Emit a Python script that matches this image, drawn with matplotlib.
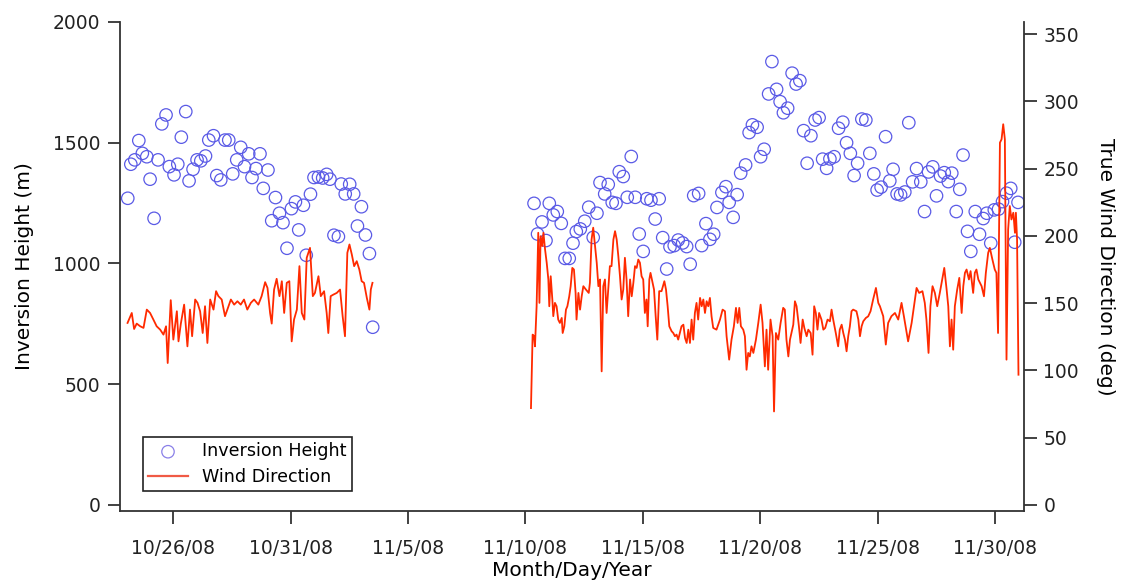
import numpy as np
import pandas as pd
import matplotlib
matplotlib.use('Agg')
import matplotlib.pyplot as plt

# time is given as day counted from 1 Oct 2008 (t=26 -> Oct 26, t=41 -> Nov 10)
inv_t1 = [24.07, 24.20, 24.37, 24.54, 24.69, 24.88, 25.02, 25.19, 25.36, 25.52, 25.70, 25.84,
          26.04, 26.20, 26.35, 26.54, 26.68, 26.85, 27.02, 27.18, 27.38, 27.52, 27.72, 27.86,
          28.03, 28.21, 28.37, 28.54, 28.71, 28.88, 29.04, 29.22, 29.36, 29.53, 29.70, 29.84,
          30.04, 30.20, 30.36, 30.53, 30.68, 30.85, 31.04, 31.21, 31.35, 31.55, 31.67, 31.85,
          32.00, 32.19, 32.37, 32.54, 32.68, 32.85, 33.04, 33.16, 33.33, 33.52, 33.69, 33.85,
          34.02, 34.19, 34.36, 34.50]
inv_h1 = [1270, 1411, 1429, 1509, 1456, 1442, 1349, 1187, 1429, 1578, 1615, 1401,
          1367, 1411, 1523, 1629, 1342, 1390, 1429, 1425, 1445, 1511, 1529, 1364,
          1346, 1511, 1511, 1371, 1429, 1481, 1401, 1454, 1356, 1393, 1454, 1311,
          1387, 1177, 1273, 1208, 1169, 1063, 1227, 1255, 1139, 1241, 1034, 1287,
          1356, 1358, 1354, 1369, 1349, 1117, 1111, 1329, 1288, 1328, 1288, 1155,
          1235, 1118, 1041, 736]

inv_t2 = [41.37, 41.52, 41.71, 41.88, 42.02, 42.19, 42.36, 42.53, 42.69, 42.87, 43.03, 43.17,
          43.34, 43.53, 43.70, 43.89, 44.05, 44.18, 44.38, 44.53, 44.70, 44.86, 45.00, 45.17,
          45.34, 45.51, 45.68, 45.85, 46.02, 46.17, 46.35, 46.53, 46.70, 46.85, 47.02, 47.16,
          47.34, 47.51, 47.70, 47.87, 48.02, 48.17, 48.38, 48.51, 48.69, 48.86, 49.02, 49.16,
          49.37, 49.54, 49.68, 49.85, 50.02, 50.17, 50.38, 50.53, 50.67, 50.87, 51.02, 51.17,
          51.36, 51.50, 51.70, 51.85, 51.99, 52.17, 52.36, 52.53, 52.69, 52.85, 53.00, 53.16,
          53.34, 53.51, 53.66, 53.83, 53.97, 54.15, 54.34, 54.52, 54.68, 54.84, 55.00, 55.15,
          55.33, 55.50, 55.67, 55.84, 55.98, 56.15, 56.34, 56.52, 56.66, 56.83, 56.98, 57.16,
          57.33, 57.49, 57.66, 57.84, 58.00, 58.17, 58.35, 58.51, 58.68, 58.84, 59.01, 59.16,
          59.35, 59.50, 59.64, 59.83, 59.97, 60.16, 60.34, 60.50, 60.65, 60.82, 60.97, 61.15,
          61.32, 61.49, 61.67, 61.84, 61.98]
inv_h2 = [1249, 1122, 1172, 1095, 1249, 1201, 1215, 1166, 1021, 1021, 1084, 1132,
          1143, 1175, 1233, 1108, 1208, 1335, 1288, 1327, 1253, 1249, 1380, 1360,
          1274, 1443, 1274, 1122, 1050, 1268, 1262, 1184, 1268, 1107, 977, 1069,
          1074, 1097, 1085, 1070, 997, 1281, 1290, 1074, 1165, 1100, 1121, 1232,
          1294, 1318, 1253, 1191, 1285, 1374, 1408, 1542, 1574, 1564, 1442, 1473,
          1702, 1836, 1721, 1670, 1624, 1643, 1788, 1743, 1757, 1550, 1415, 1529,
          1594, 1604, 1432, 1394, 1433, 1442, 1560, 1585, 1500, 1456, 1364, 1415,
          1598, 1594, 1456, 1371, 1304, 1316, 1525, 1342, 1390, 1288, 1284, 1296,
          1583, 1338, 1393, 1338, 1215, 1379, 1400, 1280, 1362, 1376, 1339, 1374,
          1215, 1307, 1449, 1133, 1050, 1215, 1121, 1186, 1208, 1084, 1222, 1225,
          1256, 1291, 1311, 1088, 1253]

wind_t1 = [24.06, 24.24, 24.34, 24.45, 24.60, 24.74, 24.88, 25.02, 25.16, 25.30, 25.45, 25.59,
           25.70, 25.77, 25.90, 26.01, 26.16, 26.23, 26.33, 26.47, 26.61, 26.72, 26.81, 26.94,
           27.04, 27.15, 27.26, 27.36, 27.46, 27.58, 27.72, 27.83, 27.93, 28.07, 28.21, 28.31,
           28.46, 28.60, 28.74, 28.88, 29.02, 29.16, 29.31, 29.45, 29.63, 29.77, 29.92, 30.02,
           30.13, 30.20, 30.30, 30.41, 30.53, 30.63, 30.73, 30.84, 30.95, 31.05, 31.15, 31.27,
           31.38, 31.48, 31.59, 31.69, 31.83, 31.95, 32.04, 32.19, 32.29, 32.43, 32.54, 32.61,
           32.71, 32.83, 32.97, 33.11, 33.22, 33.32, 33.42, 33.51, 33.61, 33.71, 33.82, 33.93,
           34.03, 34.13, 34.25, 34.36, 34.42, 34.49]
wind_d1 = [135.3, 142.7, 130.8, 134.8, 132.8, 131.6, 145.2, 142.7, 137.8, 132.8, 130.3, 126.6,
           132.8, 105.5, 152.2, 122.9, 144.0, 121.6, 134.8, 148.9, 117.9, 145.2, 125.4, 152.7,
           150.2, 144.0, 127.8, 147.7, 120.4, 152.7, 145.2, 158.9, 155.2, 152.7, 140.3, 145.2,
           152.7, 148.9, 151.4, 148.9, 152.7, 145.2, 150.2, 152.7, 148.9, 155.2, 165.6, 161.3,
           142.7, 134.8, 160.1, 168.1, 155.2, 166.3, 142.7, 165.1, 166.3, 121.6, 137.8, 145.2,
           177.5, 142.7, 137.8, 183.7, 191.1, 155.2, 157.6, 170.0, 155.2, 158.9, 142.7, 127.8,
           155.2, 156.4, 157.6, 160.1, 140.3, 125.4, 187.4, 193.6, 186.2, 177.5, 181.2, 175.0,
           166.3, 165.1, 153.9, 145.2, 160.1, 165.1]

wind_t2 = [41.24, 41.31, 41.37, 41.41, 41.48, 41.55, 41.60, 41.65, 41.72, 41.77, 41.84, 41.91,
           41.98, 42.02, 42.08, 42.15, 42.19, 42.26, 42.33, 42.40, 42.47, 42.55, 42.59, 42.66,
           42.73, 42.79, 42.87, 42.93, 43.00, 43.07, 43.14, 43.18, 43.26, 43.33, 43.40, 43.47,
           43.58, 43.70, 43.75, 43.82, 43.89, 43.97, 44.04, 44.11, 44.18, 44.25, 44.32, 44.39,
           44.46, 44.53, 44.60, 44.67, 44.75, 44.82, 44.89, 44.96, 45.03, 45.10, 45.17, 45.24,
           45.31, 45.38, 45.46, 45.53, 45.60, 45.67, 45.74, 45.81, 45.88, 45.95, 46.02, 46.09,
           46.16, 46.21, 46.28, 46.33, 46.42, 46.48, 46.55, 46.62, 46.70, 46.80, 46.92, 46.99,
           47.06, 47.13, 47.23, 47.30, 47.37, 47.44, 47.51, 47.58, 47.65, 47.73, 47.80, 47.87,
           47.94, 48.01, 48.08, 48.15, 48.22, 48.29, 48.36, 48.44, 48.51, 48.58, 48.65, 48.72,
           48.79, 48.86, 48.93, 49.00, 49.14, 49.29, 49.40, 49.50, 49.57, 49.68, 49.78, 49.88,
           49.97, 50.04, 50.11, 50.18, 50.28, 50.35, 50.42, 50.49, 50.56, 50.63, 50.71, 50.82,
           50.92, 51.02, 51.10, 51.20, 51.27, 51.34, 51.44, 51.53, 51.59, 51.67, 51.77, 51.87,
           51.98, 52.05, 52.12, 52.20, 52.27, 52.41, 52.48, 52.55, 52.65, 52.72, 52.81, 52.88,
           52.98, 53.05, 53.15, 53.23, 53.30, 53.37, 53.44, 53.51, 53.61, 53.69, 53.77, 53.87,
           53.97, 54.04, 54.11, 54.22, 54.32, 54.39, 54.47, 54.54, 54.61, 54.68, 54.75, 54.82,
           54.89, 54.96, 55.10, 55.18, 55.25, 55.32, 55.39, 55.50, 55.60, 55.70, 55.81, 55.93,
           56.03, 56.10, 56.24, 56.35, 56.45, 56.59, 56.74, 56.88, 57.02, 57.12, 57.30, 57.45,
           57.66, 57.77, 57.91, 58.01, 58.08, 58.17, 58.25, 58.34, 58.44, 58.54, 58.65, 58.75,
           58.84, 58.94, 59.01, 59.08, 59.15, 59.22, 59.29, 59.39, 59.48, 59.58, 59.65, 59.72,
           59.79, 59.89, 59.96, 60.07, 60.14, 60.21, 60.29, 60.36, 60.43, 60.53, 60.61, 60.71,
           60.78, 60.89, 60.99, 61.06, 61.13, 61.21, 61.28, 61.35, 61.42, 61.49, 61.56, 61.63,
           61.70, 61.78, 61.85, 61.89, 61.94, 62.00]
wind_d2 = [72.0, 126.6, 125.4, 117.9, 147.7, 202.3, 150.2, 199.8, 192.4, 202.3, 189.9, 180.0,
           167.6, 147.7, 170.0, 152.7, 140.3, 150.2, 147.7, 137.8, 135.3, 139.0, 127.8, 132.8,
           145.2, 147.7, 155.1, 162.6, 176.2, 175.0, 157.6, 137.8, 157.6, 145.2, 155.1, 162.6,
           160.1, 157.6, 165.1, 197.3, 206.1, 192.4, 180.0, 162.6, 167.6, 99.3, 162.6, 167.6,
           142.7, 160.1, 177.5, 177.5, 197.3, 203.5, 197.3, 184.9, 170.0, 152.7, 160.1, 183.7,
           167.6, 140.3, 167.6, 155.1, 165.1, 177.5, 176.2, 182.4, 180.0, 170.0, 167.6, 142.7,
           152.7, 132.8, 167.6, 172.5, 165.1, 160.1, 140.3, 122.9, 158.9, 158.9, 166.3, 160.1,
           147.7, 132.8, 129.1, 127.8, 125.4, 126.6, 122.9, 127.8, 132.8, 134.0, 124.1, 120.4,
           130.3, 120.4, 137.8, 122.9, 142.7, 150.2, 137.8, 153.9, 147.7, 152.7, 142.7, 151.4,
           147.7, 153.9, 140.2, 131.6, 130.3, 137.8, 145.2, 144.0, 125.4, 108.0, 122.9, 132.8,
           146.5, 135.3, 146.5, 132.8, 130.3, 125.4, 100.5, 113.0, 110.4, 117.9, 113.0, 122.9,
           135.3, 148.9, 135.3, 103.0, 130.3, 100.5, 137.8, 125.4, 69.5, 127.8, 122.9, 135.3,
           146.5, 145.2, 122.9, 110.4, 122.9, 134.0, 151.4, 147.7, 132.8, 120.4, 137.8, 131.6,
           125.4, 130.3, 127.8, 111.7, 147.7, 142.7, 130.3, 142.7, 137.8, 130.3, 131.6, 137.8,
           136.5, 145.2, 137.8, 127.8, 117.9, 130.3, 134.0, 127.8, 122.9, 114.2, 125.4, 132.8,
           144.0, 145.2, 144.0, 137.8, 125.4, 132.8, 136.5, 139.0, 140.2, 144.0, 152.7, 161.3,
           150.2, 147.7, 140.3, 119.2, 135.3, 140.3, 142.7, 137.8, 150.2, 140.3, 121.6, 135.3,
           161.3, 157.6, 158.9, 150.2, 137.8, 113.0, 147.7, 162.6, 157.6, 147.7, 157.6, 167.6,
           176.2, 160.1, 147.7, 117.9, 137.8, 115.4, 147.7, 160.1, 168.8, 142.7, 162.6, 172.5,
           175.0, 167.6, 173.8, 157.6, 172.5, 175.0, 167.6, 165.1, 162.6, 155.1, 172.5, 187.4,
           191.1, 182.4, 175.0, 172.5, 127.8, 269.3, 271.8, 283.0, 271.8, 108.0, 204.8, 222.2,
           212.2, 217.2, 202.3, 217.2, 197.3, 96.8]

tick_dates = ['2008-10-26', '2008-10-31', '2008-11-05', '2008-11-10',
              '2008-11-15', '2008-11-20', '2008-11-25', '2008-11-30']
tick_labels = ['10/26/08', '10/31/08', '11/5/08', '11/10/08',
               '11/15/08', '11/20/08', '11/25/08', '11/30/08']


def to_dates(t):
    return pd.Timestamp('2008-10-01') + pd.to_timedelta(np.asarray(t) - 1, unit='D')


plt.rcParams['font.family'] = 'DejaVu Sans'
plt.rcParams['font.size'] = 13.5

fig = plt.figure(figsize=(11.27, 5.83), dpi=100)
ax = fig.add_axes([0.1065, 0.1235, 0.802, 0.8388])
ax2 = ax.twinx()

edge = '#333333'
blue = '#5a5ae6'
red = '#ff2a00'

for t, h in [(inv_t1, inv_h1), (inv_t2, inv_h2)]:
    ax.scatter(to_dates(t), h, s=80, facecolors='none', edgecolors=blue, linewidths=0.9, zorder=3)

for t, d in [(wind_t1, wind_d1), (wind_t2, wind_d2)]:
    ax2.plot(to_dates(t), d, color=red, lw=1.3)

ax.set_xlim(to_dates([23.74, 62.23]))
ax.set_ylim(-25, 2000)
ax2.set_ylim(-4.5, 359)

ax.set_xticks(pd.to_datetime(tick_dates))
ax.set_xticklabels(tick_labels)
ax.set_yticks([0, 500, 1000, 1500, 2000])
ax2.set_yticks([0, 50, 100, 150, 200, 250, 300, 350])

for a in (ax, ax2):
    a.spines['top'].set_visible(False)
    for s in a.spines.values():
        s.set_color(edge)
        s.set_linewidth(1.3)
    a.tick_params(direction='out', length=9, width=1.3, color=edge, labelcolor='#222222', pad=5)
ax.tick_params(axis='x', pad=11)
ax.spines['right'].set_visible(False)
ax2.spines['left'].set_visible(False)
ax2.spines['bottom'].set_visible(False)

ax.set_xlabel('Month/Day/Year', fontsize=14.5, labelpad=2)
ax.set_ylabel('Inversion Height (m)', fontsize=14.5, labelpad=14)
ax2.set_ylabel('True Wind Direction (deg)', fontsize=14.5, rotation=270, labelpad=26)

h1 = ax.scatter([], [], s=80, facecolors='none', edgecolors='#8a80e8', linewidths=0.9)
h2, = ax2.plot([], [], color='#f05a45', lw=1.6)
leg = ax2.legend([h1, h2], ['Inversion Height', 'Wind Direction'], loc='lower left',
                 bbox_to_anchor=(0.025, 0.04), borderaxespad=0, fancybox=False,
                 framealpha=1, edgecolor='#222222', fontsize=12.6, handlelength=2.3,
                 borderpad=0.3, labelspacing=0.45, handletextpad=0.8)
leg.get_frame().set_linewidth(1.2)

fig.savefig('out.png', dpi=100)
